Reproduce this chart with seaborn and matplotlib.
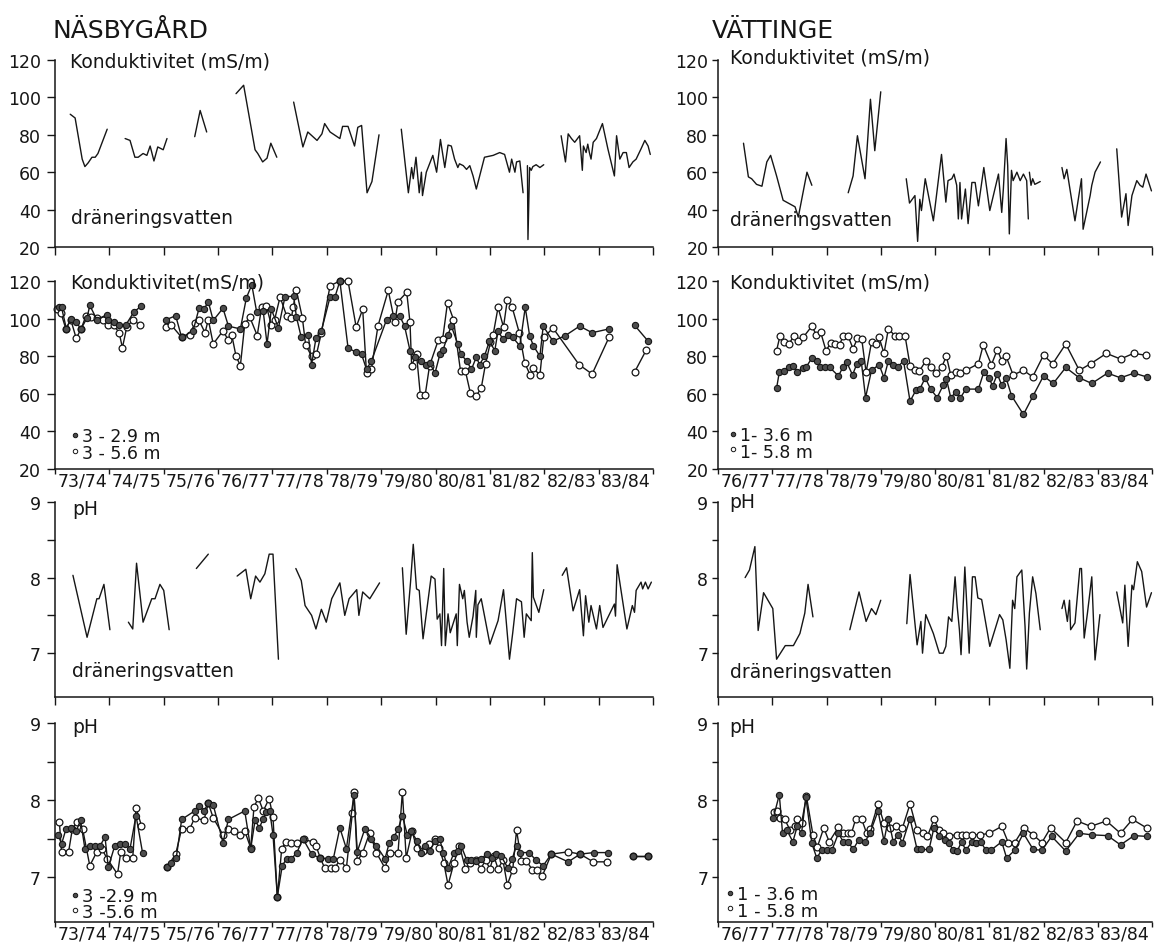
import numpy as np
import pandas as pd
import matplotlib
matplotlib.use("Agg")
import matplotlib.pyplot as plt
from matplotlib.lines import Line2D
import seaborn as sns

nan = np.nan

# ---------------------------------------------------------------- seasons
NAS_SEASONS = ["73/74", "74/75", "75/76", "76/77", "77/78", "78/79",
               "79/80", "80/81", "81/82", "82/83", "83/84"]
VAT_SEASONS = ["76/77", "77/78", "78/79", "79/80", "80/81", "81/82",
               "82/83", "83/84"]

# Time is given in season-years (73.5 = middle of 73/74); nan separates gaps.

# ---------------------------------------------------------------- Näsbygård
# conductivity (mS/m), drainage water
NAS_DRAIN_COND_T = [
    73.28, 73.37, 73.50, 73.55, 73.61, 73.68, 73.74, 73.79, 73.96, nan,
    74.29, 74.38, 74.47, 74.53, 74.62, 74.69, 74.75, 74.82, 74.89, 74.99, 75.06, nan,
    75.57, 75.67, 75.79, nan,
    76.33, 76.47, 76.68, 76.73, 76.82, 76.90, 76.97, 77.08, nan,
    77.39, 77.56, 77.65, 77.82, 77.91, 77.96, 78.06, 78.24, 78.29, 78.39,
    78.51, 78.57, 78.64, 78.74, 78.83, 78.96, nan,
    79.37, 79.50, 79.56, 79.59, 79.64, 79.70, 79.74, 79.76, 79.83, 79.95,
    80.02, 80.09, 80.17, 80.23, 80.29, 80.35, 80.41, 80.44, 80.51, 80.57,
    80.63, 80.69, 80.75, 80.90, 81.06, 81.18, 81.27, 81.36, 81.40, 81.46,
    81.49, 81.55, 81.61, nan,
    81.69, 81.70, 81.73, 81.76, 81.79, 81.85, 81.92, 81.99, nan,
    82.31, 82.39, 82.44, 82.50, 82.56, 82.65, 82.70, 82.72, 82.77, 82.80,
    82.83, 82.86, 82.90, 82.96, 83.07, 83.17, 83.29, 83.33, 83.39, 83.45,
    83.51, 83.56, 83.63, 83.69, 83.78, 83.85, 83.91, 83.95]
NAS_DRAIN_COND_V = [
    91, 89, 67, 63, 65, 68, 68, 70, 83, nan,
    78, 77, 68, 68, 70, 69, 74, 66, 73.5, 72, 78, nan,
    79, 93, 81.5, nan,
    102, 106.5, 72, 70, 65.5, 67.5, 75.5, 68, nan,
    97.5, 73.5, 81.5, 77, 80.5, 86, 81.5, 78, 84.5, 84.5,
    74, 84, 85, 49, 55, 80, nan,
    83, 49, 62.5, 56.5, 68, 49, 60, 47.5, 60, 69,
    60, 77.5, 62.5, 74.5, 74, 67, 62.5, 64.5, 63.5, 61.5,
    63.5, 58, 51, 68, 69, 70.5, 69.5, 60, 67, 60,
    65.5, 66, 49, nan,
    63.5, 24, 62.5, 61, 63, 64, 62.5, 64, nan,
    79.5, 65.5, 80.5, 78, 76, 79.5, 61, 74, 70.5, 75,
    70.5, 67, 76, 78, 86, 72.5, 58, 79.5, 67, 70.5,
    70.5, 62.5, 65.5, 67, 72.5, 77, 74, 69.5]

# conductivity (mS/m), groundwater tube 3 at 2.9 m (filled) and 5.6 m (open)
NAS_COND_29_T = [
    73.08, 73.12, 73.21, 73.29, 73.39, 73.48, 73.59, 73.64, 73.77, 73.95,
    73.98, 74.08, 74.18, 74.30, 74.45, 74.58, nan,
    75.05, 75.22, 75.33, 75.54, 75.65, 75.74, 75.82, 75.91, 76.09, 76.19,
    76.41, 76.52, 76.62, 76.71, 76.83, 76.90, 76.98, 77.11, 77.23, 77.39,
    77.44, 77.53, 77.66, 77.72, 77.80, 77.90, 78.06, 78.15, 78.24, 78.39,
    78.54, 78.64, 78.73, 78.82,
    79.10, 79.22, 79.34, 79.43, 79.53, 79.62, 79.74, 79.83, 79.89, 79.99,
    80.08, 80.14, 80.23, 80.29, 80.41, 80.47, 80.57, 80.66, 80.75, 80.81,
    80.90, 80.99, 81.09, 81.15, 81.24, 81.33, 81.42, 81.55, 81.65, 81.73,
    81.80, 81.92, 81.98, 82.16, 82.39, 82.65, 82.88, 83.19, nan,
    83.66, 83.91]
NAS_COND_29_V = [
    106, 106, 94.5, 100, 98, 94.5, 100.5, 107, 99.5, 102,
    99.5, 98, 96.5, 96.5, 103.5, 106.5, nan,
    99.5, 101.5, 90, 93.5, 105.5, 105, 109, 99, 105.5, 96,
    94.5, 111, 118, 103.5, 104, 86.5, 105, 95, 111.5, 112,
    101, 90, 91.5, 75.5, 89.5, 93.5, 111.5, 111.5, 120, 84.5,
    82, 81, 73, 77.5,
    99.5, 101.5, 101.5, 96, 83, 79.5, 77.5, 75.5, 76.5, 71,
    81, 83.5, 91.5, 96, 86.5, 81, 77.5, 73, 79.5, 75.5,
    80, 88, 83, 93.5, 89, 91.5, 90, 85.5, 106, 91,
    85.5, 80, 96, 88, 91, 96, 92.5, 94.5, nan,
    96.5, 88]
NAS_COND_56_T = [
    73.04, 73.11, 73.20, 73.29, 73.39, 73.48, 73.57, 73.67, 73.77, 73.88,
    73.98, 74.08, 74.18, 74.24, 74.32, 74.44, 74.56, nan,
    75.05, 75.14, 75.33, 75.48, 75.57, 75.65, 75.76, 75.82, 75.91, 76.09,
    76.19, 76.25, 76.33, 76.41, 76.49, 76.58, 76.72, 76.80, 76.89, 76.98,
    77.04, 77.14, 77.26, 77.35, 77.38, 77.44, 77.55, 77.61, 77.72, 77.81,
    77.90, 78.06, 78.24, 78.39, 78.54, 78.66, 78.73, 78.82, 78.94, 79.13,
    79.25, 79.31, 79.47, 79.53, 79.56, 79.65, 79.72, 79.81, 79.89, 80.05,
    80.13, 80.22, 80.33, 80.46, 80.55, 80.64, 80.75, 80.84, 80.92, 81.01,
    81.06, 81.15, 81.25, 81.32, 81.41, 81.54, 81.64, 81.74, 81.80, 81.92,
    81.99, 82.16, 82.64, 82.88, 83.19, nan,
    83.66, 83.88]
NAS_COND_56_V = [
    105, 103, 94.5, 99.5, 89.5, 94.5, 101.5, 101, 100.5, 99.5,
    96.5, 96.5, 92.5, 84.5, 95.5, 99.5, 96.5, nan,
    95.5, 96.5, 90, 91.5, 97.5, 99, 92.5, 99.5, 86.5, 93.5,
    88.5, 91.5, 80, 75, 97, 101, 91, 106, 106.5, 96.5,
    99.5, 111.5, 101.5, 100.5, 106, 115, 100.5, 86, 80, 81,
    92.5, 117.5, 120, 120, 95.5, 105, 71, 73, 96, 115,
    98, 109, 114, 98, 75, 81, 59.5, 59.5, 75, 88.5,
    89, 108.5, 99.5, 72, 72, 60.5, 59, 63, 76, 87.5,
    91.5, 106, 95.5, 110, 106, 92.5, 76.5, 70, 73.5, 70,
    90, 95, 75.5, 70.5, 90, nan,
    71.5, 83.5]

# pH, drainage water
NAS_DRAIN_PH_T = [
    73.33, 73.59, 73.77, 73.81, 73.90, 74.01, nan,
    74.35, 74.43, 74.50, 74.62, 74.78, 74.84, 74.93, 75.00, 75.10, nan,
    75.60, 75.82, nan,
    76.35, 76.51, 76.60, 76.69, 76.77, 76.86, 76.94, 77.01, 77.11, nan,
    77.43, 77.53, 77.60, 77.72, 77.80, 77.90, 77.99, 78.09, 78.24, 78.33,
    78.41, 78.55, 78.59, 78.66, 78.79, 78.97, nan,
    79.39, 79.46, 79.54, 79.59, 79.65, 79.70, 79.77, 79.92, 79.99, 80.03,
    80.08, 80.11, 80.15, 80.18, 80.23, 80.27, 80.38, 80.40, 80.44, 80.50,
    80.53, 80.58, 80.62, 80.69, 80.74, 80.75, 80.78, 80.84, 81.00, 81.15,
    81.25, 81.36, 81.42, 81.49, 81.58, 81.63, 81.67, 81.73, 81.76, 81.78,
    81.80, 81.90, 81.99, nan,
    82.33, 82.41, 82.53, 82.65, 82.72, 82.76, 82.82, 82.86, 82.96, 83.02,
    83.08, 83.29, 83.31, 83.34, 83.52, 83.62, 83.66, 83.69, 83.78, 83.81,
    83.86, 83.91, 83.97]
NAS_DRAIN_PH_V = [
    8.03, 7.21, 7.72, 7.72, 7.91, 7.31, nan,
    7.41, 7.32, 8.19, 7.41, 7.72, 7.72, 7.91, 7.83, 7.31, nan,
    8.12, 8.31, nan,
    8.02, 8.11, 7.72, 8.02, 7.94, 8.05, 8.31, 8.31, 6.92, nan,
    8.12, 7.96, 7.63, 7.50, 7.32, 7.58, 7.41, 7.72, 7.93, 7.50,
    7.72, 7.84, 7.50, 7.81, 7.72, 7.93, nan,
    8.13, 7.25, 7.94, 8.44, 7.85, 7.83, 7.19, 8.02, 7.98, 7.45,
    7.52, 7.10, 8.12, 7.10, 7.52, 7.27, 7.52, 7.10, 7.91, 7.72,
    7.83, 7.41, 7.21, 7.49, 7.83, 7.21, 7.64, 7.72, 7.12, 7.43,
    7.84, 6.92, 7.27, 7.72, 7.68, 7.21, 7.52, 7.46, 7.43, 8.33,
    7.74, 7.54, 7.84, nan,
    8.03, 8.13, 7.56, 7.84, 7.23, 7.76, 7.41, 7.63, 7.32, 7.63,
    7.34, 7.65, 7.49, 8.17, 7.32, 7.63, 7.54, 7.83, 7.94, 7.85,
    7.94, 7.85, 7.94]

# pH, groundwater tube 3 at 2.9 m (filled) and 5.6 m (open)
NAS_PH_29_T = [
    73.06, 73.12, 73.20, 73.29, 73.39, 73.47, 73.55, 73.64, 73.74, 73.83,
    73.92, 73.98, 74.10, 74.19, 74.29, 74.38, 74.49, 74.61, nan,
    75.06, 75.14, 75.23, 75.33, 75.57, 75.65, 75.74, 75.82, 75.91, 76.09,
    76.19, 76.49, 76.60, 76.68, 76.76, 76.83, 76.89, 76.95, 77.01, 77.09,
    77.18, 77.26, 77.35, 77.45, 77.56, 77.72, 77.87, 78.02, 78.12, 78.24,
    78.36, 78.50, 78.56, 78.70, 78.82, 78.91, 79.07, 79.15, 79.23, 79.31,
    79.39, 79.48, 79.55, 79.66, 79.74, 79.80, 79.89, 79.99, 80.08, 80.14,
    80.23, 80.34, 80.41, 80.47, 80.57, 80.66, 80.75, 80.84, 80.94, 81.03,
    81.12, 81.21, 81.33, 81.41, 81.49, 81.56, 81.72, 81.85, 81.98, 82.13,
    82.44, 82.66, 82.91, 83.17, nan,
    83.63, 83.91]
NAS_PH_29_V = [
    7.55, 7.43, 7.62, 7.64, 7.60, 7.74, 7.37, 7.41, 7.41, 7.41,
    7.52, 7.13, 7.41, 7.43, 7.43, 7.37, 7.80, 7.32, nan,
    7.13, 7.18, 7.25, 7.75, 7.86, 7.93, 7.86, 7.96, 7.94, 7.45,
    7.75, 7.86, 7.37, 7.74, 7.64, 7.76, 7.84, 7.86, 7.55, 6.75,
    7.15, 7.24, 7.24, 7.32, 7.50, 7.30, 7.25, 7.24, 7.24, 7.64,
    7.37, 8.07, 7.33, 7.63, 7.50, 7.41, 7.24, 7.45, 7.52, 7.62,
    7.80, 7.55, 7.60, 7.47, 7.32, 7.41, 7.34, 7.47, 7.49, 7.32,
    7.12, 7.32, 7.34, 7.41, 7.23, 7.23, 7.21, 7.24, 7.30, 7.25,
    7.30, 7.27, 7.12, 7.24, 7.41, 7.32, 7.32, 7.22, 7.15, 7.30,
    7.20, 7.30, 7.32, 7.32, nan,
    7.28, 7.28]
NAS_PH_56_T = [
    73.08, 73.12, 73.25, 73.32, 73.41, 73.51, 73.64, 73.77, 73.86, 73.96,
    74.15, 74.21, 74.31, 74.43, 74.49, 74.59, nan,
    75.06, 75.22, 75.33, 75.48, 75.57, 75.74, 75.82, 75.91, 76.09, 76.19,
    76.30, 76.40, 76.49, 76.60, 76.66, 76.74, 76.83, 76.94, 77.01, 77.09,
    77.17, 77.25, 77.35, 77.45, 77.58, 77.74, 77.80, 77.88, 77.96, 78.07,
    78.15, 78.24, 78.36, 78.47, 78.50, 78.56, 78.66, 78.79, 78.91, 79.07,
    79.16, 79.31, 79.39, 79.46, 79.57, 79.65, 79.77, 79.88, 79.99, 80.07,
    80.15, 80.23, 80.34, 80.44, 80.55, 80.64, 80.74, 80.83, 80.92, 81.00,
    81.07, 81.15, 81.24, 81.32, 81.42, 81.49, 81.58, 81.67, 81.78, 81.87,
    81.96, 82.13, 82.44, 82.66, 82.90, 83.16, nan,
    83.63, 83.91]
NAS_PH_56_V = [
    7.72, 7.33, 7.33, 7.63, 7.72, 7.62, 7.15, 7.33, 7.37, 7.24,
    7.04, 7.33, 7.25, 7.25, 7.90, 7.67, nan,
    7.13, 7.30, 7.63, 7.63, 7.77, 7.74, 7.96, 7.77, 7.55, 7.63,
    7.60, 7.55, 7.60, 7.38, 7.91, 8.03, 7.86, 8.02, 7.78, 6.74,
    7.37, 7.46, 7.45, 7.44, 7.49, 7.46, 7.41, 7.25, 7.12, 7.12,
    7.12, 7.23, 7.12, 7.83, 8.11, 7.21, 7.32, 7.58, 7.32, 7.12,
    7.32, 7.32, 8.11, 7.25, 7.60, 7.38, 7.34, 7.43, 7.49, 7.38,
    7.19, 6.90, 7.19, 7.41, 7.11, 7.19, 7.23, 7.11, 7.22, 7.11,
    7.28, 7.11, 7.22, 6.90, 7.10, 7.61, 7.21, 7.21, 7.10, 7.10,
    7.01, 7.30, 7.33, 7.30, 7.20, 7.20, nan,
    7.28, 7.28]

# ---------------------------------------------------------------- Vättinge
VAT_DRAIN_COND_T = [
    76.47, 76.56, 76.62, 76.71, 76.81, 76.90, 76.97, 77.08, 77.20, 77.42,
    77.48, 77.64, 77.73, nan,
    78.40, 78.49, 78.57, 78.71, 78.81, 78.89, 79.00, nan,
    79.47, 79.53, 79.63, 79.68, 79.72, 79.75, 79.82, 79.97, 80.12, 80.20,
    80.24, 80.31, 80.35, 80.40, 80.43, 80.46, 80.49, 80.56, 80.61, 80.68,
    80.74, 80.80, 80.90, 81.01, 81.17, 81.23, 81.26, 81.31, 81.34, 81.37,
    81.41, 81.44, 81.51, 81.57, 81.63, 81.69, 81.72, nan,
    81.74, 81.77, 81.80, 81.84, 81.94, nan,
    82.34, 82.38, 82.43, 82.58, 82.70, 82.73, 82.86, 82.89, 82.95, 83.05, nan,
    83.35, 83.44, 83.52, 83.56, 83.63, 83.72, 83.78, 83.83, 83.89, 83.99]
VAT_DRAIN_COND_V = [
    75.5, 57.5, 56.5, 53.5, 52.5, 65.5, 69, 58, 45, 41.5,
    36, 60, 53, nan,
    49, 58, 79.5, 56.5, 99, 71.5, 103, nan,
    56.5, 43.5, 47.5, 23, 45.5, 39.5, 56.5, 34, 69.5, 44,
    55.5, 56.5, 59, 53, 35, 54.5, 35, 51, 32.5, 54.5,
    54.5, 42, 62.5, 39.5, 59, 38.5, 51, 78, 63.5, 27,
    61, 55.5, 60, 55.5, 59, 55.5, 35, nan,
    60, 53, 56.5, 53.5, 55, nan,
    62.5, 56.5, 61.5, 34, 56.5, 29.5, 47.5, 53, 60, 65.5, nan,
    72.5, 36, 48.5, 31.5, 47.5, 55.5, 53, 52, 59, 50]

# conductivity (mS/m), groundwater tube 1 at 3.6 m (filled) and 5.8 m (open)
VAT_COND_36_T = [
    77.08, 77.13, 77.22, 77.30, 77.39, 77.46, 77.56, 77.62, 77.73, 77.82,
    77.88, 77.97, 78.06, 78.22, 78.30, 78.37, 78.48, 78.56, 78.64, 78.72,
    78.83, 78.97, 79.06, 79.14, 79.23, 79.32, 79.42, 79.54, 79.65, 79.72,
    79.82, 79.92, 80.04, 80.15, 80.21, 80.29, 80.39, 80.47, 80.57, 80.80,
    80.90, 81.00, 81.06, 81.15, 81.23, 81.31, 81.41, 81.63, 81.81, 82.00,
    82.18, 82.41, 82.66, 82.89, 83.18, 83.42, 83.67, 83.90]
VAT_COND_36_V = [
    63, 71.5, 72, 74, 75, 71.5, 73.5, 74, 79, 77.5,
    74.5, 74, 74, 69.5, 74, 77, 70, 76, 77.5, 58,
    72.5, 75.5, 68.5, 77.5, 75.5, 74.5, 77.5, 56, 62, 62.5,
    68.5, 62.5, 58, 64.5, 68, 58, 61, 58, 62.5, 62.5,
    71.5, 68.5, 64, 70.5, 64.5, 68.5, 59, 49, 59, 69.5,
    65.5, 74, 68.5, 65.5, 71, 68.5, 71, 69]
VAT_COND_58_T = [
    77.08, 77.14, 77.22, 77.31, 77.40, 77.48, 77.57, 77.73, 77.81, 77.89,
    77.99, 78.08, 78.16, 78.24, 78.31, 78.40, 78.49, 78.57, 78.65, 78.73,
    78.83, 78.91, 78.97, 79.06, 79.14, 79.26, 79.34, 79.45, 79.54, 79.63,
    79.71, 79.83, 79.92, 80.02, 80.12, 80.21, 80.29, 80.39, 80.47, 80.57,
    80.80, 80.89, 81.04, 81.15, 81.23, 81.31, 81.44, 81.63, 81.80, 82.00,
    82.17, 82.41, 82.66, 82.87, 83.16, 83.42, 83.66, 83.89]
VAT_COND_58_V = [
    83, 90.5, 87.5, 86.5, 91, 88, 90, 96, 91.5, 93,
    83, 87, 86.5, 86, 91, 90.5, 84, 89.5, 89, 71.5,
    87.5, 86.5, 90, 81.5, 94.5, 91, 90.5, 90.5, 75, 72.5,
    72, 77.5, 74, 71, 74, 80, 70, 71.5, 71, 72.5,
    76, 86, 75.5, 83.5, 77.5, 80, 70, 72.5, 69, 80.5,
    76, 86.5, 72.5, 76, 81.5, 78.5, 81.5, 80.5]

# pH, drainage water
VAT_DRAIN_PH_T = [
    76.50, 76.58, 76.68, 76.74, 76.84, 77.01, 77.08, 77.24, 77.39, 77.51,
    77.60, 77.66, 77.75, nan,
    78.43, 78.60, 78.73, 78.83, 78.91, 79.00, nan,
    79.48, 79.54, 79.67, 79.74, 79.77, 79.83, 79.97, 80.08, 80.15, 80.20,
    80.25, 80.31, 80.37, 80.41, 80.45, 80.48, 80.55, 80.60, 80.63, 80.69,
    80.74, 80.79, 80.86, 81.01, 81.19, 81.25, 81.31, 81.38, 81.43, 81.47,
    81.51, 81.60, 81.66, 81.69, 81.74, 81.80, 81.86, 81.94, nan,
    82.34, 82.38, 82.44, 82.48, 82.50, 82.58, 82.67, 82.70, 82.75, 82.81,
    82.89, 82.95, 83.04, nan,
    83.35, 83.46, 83.50, 83.56, 83.63, 83.66, 83.73, 83.81, 83.90, 83.99]
VAT_DRAIN_PH_V = [
    8.00, 8.10, 8.41, 7.30, 7.80, 7.59, 6.92, 7.10, 7.10, 7.26,
    7.53, 7.91, 7.48, nan,
    7.31, 7.81, 7.42, 7.59, 7.51, 7.70, nan,
    7.39, 8.04, 7.11, 7.42, 7.00, 7.51, 7.26, 7.00, 7.00, 7.09,
    7.48, 7.42, 8.01, 7.61, 7.31, 6.98, 8.14, 7.44, 7.00, 8.01,
    8.01, 7.73, 7.71, 7.09, 7.51, 7.44, 7.18, 6.80, 7.70, 7.59,
    8.01, 8.10, 7.35, 6.79, 7.53, 8.01, 7.79, 7.31, nan,
    7.59, 7.70, 7.42, 7.70, 7.31, 7.40, 8.12, 8.12, 7.20, 7.53,
    8.01, 6.91, 7.51, nan,
    7.81, 7.40, 7.90, 7.09, 7.90, 7.84, 8.21, 8.08, 7.61, 7.80]

# pH, groundwater tube 1 at 3.6 m (filled) and 5.8 m (open)
VAT_PH_36_T = [
    77.02, 77.13, 77.19, 77.27, 77.38, 77.46, 77.54, 77.62, 77.73, 77.82,
    77.91, 78.00, 78.10, 78.22, 78.31, 78.40, 78.49, 78.59, 78.71, 78.80,
    78.95, 79.06, 79.14, 79.23, 79.32, 79.40, 79.54, 79.67, 79.75, 79.89,
    79.98, 80.08, 80.18, 80.26, 80.33, 80.41, 80.49, 80.57, 80.68, 80.76,
    80.84, 80.94, 81.03, 81.23, 81.32, 81.47, 81.63, 81.81, 81.97, 82.15,
    82.41, 82.66, 82.89, 83.18, 83.42, 83.67, 83.90]
VAT_PH_36_V = [
    7.77, 8.07, 7.57, 7.61, 7.46, 7.66, 7.57, 8.04, 7.44, 7.25,
    7.35, 7.35, 7.35, 7.57, 7.46, 7.46, 7.36, 7.48, 7.46, 7.57,
    7.86, 7.47, 7.76, 7.46, 7.55, 7.45, 7.76, 7.36, 7.36, 7.36,
    7.64, 7.54, 7.48, 7.45, 7.35, 7.34, 7.46, 7.35, 7.46, 7.45,
    7.46, 7.35, 7.35, 7.46, 7.25, 7.35, 7.57, 7.36, 7.35, 7.53,
    7.34, 7.57, 7.55, 7.54, 7.42, 7.54, 7.53]
VAT_PH_58_T = [
    77.03, 77.08, 77.14, 77.23, 77.33, 77.42, 77.46, 77.54, 77.63, 77.75,
    77.83, 77.95, 78.05, 78.22, 78.31, 78.40, 78.46, 78.54, 78.65, 78.74,
    78.81, 78.95, 79.06, 79.17, 79.29, 79.40, 79.54, 79.67, 79.77, 79.86,
    79.98, 80.08, 80.15, 80.25, 80.40, 80.49, 80.58, 80.68, 80.83, 81.00,
    81.23, 81.35, 81.47, 81.64, 81.81, 81.97, 82.13, 82.41, 82.62, 82.87,
    83.16, 83.42, 83.64, 83.90]
VAT_PH_58_V = [
    7.84, 7.86, 7.77, 7.75, 7.61, 7.66, 7.75, 7.70, 8.05, 7.55,
    7.39, 7.64, 7.46, 7.65, 7.57, 7.57, 7.57, 7.76, 7.75, 7.57,
    7.62, 7.95, 7.70, 7.64, 7.67, 7.64, 7.95, 7.61, 7.57, 7.53,
    7.75, 7.61, 7.58, 7.54, 7.55, 7.55, 7.55, 7.55, 7.55, 7.57,
    7.66, 7.45, 7.45, 7.64, 7.55, 7.45, 7.64, 7.45, 7.73, 7.66,
    7.73, 7.57, 7.75, 7.64]

# ---------------------------------------------------------------- styling
sns.set_theme(style="ticks")
plt.rcParams["font.family"] = ["DejaVu Sans"]
INK = "#161616"
plt.rcParams["text.color"] = INK
plt.rcParams["xtick.color"] = INK
plt.rcParams["ytick.color"] = INK

W, H = 1155, 945
fig = plt.figure(figsize=(W / 100, H / 100), dpi=100)
fig.patch.set_facecolor("white")

LEFT = (55, 653)
RIGHT = (718, 1152)
ROWS = [(61, 248), (282, 470), (503, 698), (724, 923)]

FILLED = dict(marker="o", markersize=4.5, markerfacecolor="#4d4d4d",
              markeredgecolor=INK, markeredgewidth=0.8)
OPEN = dict(marker="o", markersize=4.9, markerfacecolor="white",
            markeredgecolor=INK, markeredgewidth=0.9)


def fx(x):
    return x / W


def fy(y):
    return 1 - y / H


def make_axes(col, row):
    x0, x1 = col
    ytop, ybot = ROWS[row]
    return fig.add_axes([fx(x0), fy(ybot), (x1 - x0) / W, (ybot - ytop) / H])


def to_frame(t, v):
    t = np.asarray(t, float)
    v = np.asarray(v, float)
    gap = np.isnan(t)
    seg = np.cumsum(gap)
    keep = ~gap
    return pd.DataFrame({"t": t[keep], "v": v[keep], "seg": seg[keep]})


def trace(ax, t, v, **kw):
    sns.lineplot(data=to_frame(t, v), x="t", y="v", units="seg",
                 estimator=None, sort=False, color=INK, linewidth=1.0,
                 ax=ax, legend=False, clip_on=False, **kw)
    ax.set_xlabel("")
    ax.set_ylabel("")


def frame(ax, seasons, first, ylim, yt, ylab, yminor, labelled, ylen, ypad):
    n = len(seasons)
    ax.set_facecolor("white")
    ax.set_xlim(first, first + n)
    ax.set_ylim(*ylim)
    for s in ("top", "right"):
        ax.spines[s].set_visible(False)
    for s in ("left", "bottom"):
        ax.spines[s].set_color(INK)
        ax.spines[s].set_linewidth(1.1)
    ax.set_xticks(np.arange(first, first + n + 1))
    ax.set_xticklabels([])
    if labelled:
        ax.set_xticks(np.arange(first, first + n) + 0.5, minor=True)
        ax.set_xticklabels(seasons, minor=True, fontsize=12.5)
        ax.tick_params(axis="x", which="minor", bottom=True, length=0, pad=1.5)
        ax.tick_params(axis="x", which="major", bottom=True, length=3.8,
                       width=1.0, direction="out")
    else:
        ax.tick_params(axis="x", which="major", bottom=True, length=5.8,
                       width=1.0, direction="out")
    ax.set_yticks(yt)
    ax.set_yticklabels(ylab, fontsize=12.5)
    if yminor:
        ax.set_yticks(yminor, minor=True)
    ax.tick_params(axis="y", which="both", left=True, length=ylen, width=1.0,
                   pad=ypad, direction="out")
    ax.grid(False)


COND_TICKS = [20, 40, 60, 80, 100, 120]
COND_LABELS = [str(v) for v in COND_TICKS]
PH_TICKS = [7, 8, 9]
PH_LABELS = ["7", "8", "9"]
PH_MINOR = [7.5, 8.5]
COND_LIM = (20, 120)
PH_LIM = (6.42, 9.0)


def label(x, y, s, size=13.5, va="baseline"):
    fig.text(fx(x), fy(y), s, fontsize=size, ha="left", va=va, color=INK)


def legend_entry(x, y, filled, tx, ty, s, size=12.5):
    fig.add_artist(Line2D([fx(x)], [fy(y)], marker="o", markersize=3.2,
                          markerfacecolor="#4d4d4d" if filled else "white",
                          markeredgecolor=INK, markeredgewidth=0.7,
                          linestyle="none"))
    label(tx, ty, s, size=size)


# ---------------------------------------------------------------- Näsbygård
ax = make_axes(LEFT, 0)
trace(ax, NAS_DRAIN_COND_T, NAS_DRAIN_COND_V)
frame(ax, NAS_SEASONS, 73, COND_LIM, COND_TICKS, COND_LABELS, None, False, 5.8, 4.5)

ax = make_axes(LEFT, 1)
trace(ax, NAS_COND_56_T, NAS_COND_56_V, **OPEN)
trace(ax, NAS_COND_29_T, NAS_COND_29_V, **FILLED)
frame(ax, NAS_SEASONS, 73, COND_LIM, COND_TICKS, COND_LABELS, None, True, 5.8, 4.5)

ax = make_axes(LEFT, 2)
trace(ax, NAS_DRAIN_PH_T, NAS_DRAIN_PH_V)
frame(ax, NAS_SEASONS, 73, PH_LIM, PH_TICKS, PH_LABELS, PH_MINOR, False, 5.8, 4.5)

ax = make_axes(LEFT, 3)
trace(ax, NAS_PH_56_T, NAS_PH_56_V, **OPEN)
trace(ax, NAS_PH_29_T, NAS_PH_29_V, **FILLED)
frame(ax, NAS_SEASONS, 73, PH_LIM, PH_TICKS, PH_LABELS, PH_MINOR, True, 5.8, 4.5)

# ---------------------------------------------------------------- Vättinge
ax = make_axes(RIGHT, 0)
trace(ax, VAT_DRAIN_COND_T, VAT_DRAIN_COND_V)
frame(ax, VAT_SEASONS, 76, COND_LIM, COND_TICKS, COND_LABELS, None, False, 4.0, 3.0)

ax = make_axes(RIGHT, 1)
trace(ax, VAT_COND_58_T, VAT_COND_58_V, **OPEN)
trace(ax, VAT_COND_36_T, VAT_COND_36_V, **FILLED)
frame(ax, VAT_SEASONS, 76, COND_LIM, COND_TICKS, COND_LABELS, None, True, 4.0, 3.0)

ax = make_axes(RIGHT, 2)
trace(ax, VAT_DRAIN_PH_T, VAT_DRAIN_PH_V)
frame(ax, VAT_SEASONS, 76, PH_LIM, PH_TICKS, PH_LABELS, PH_MINOR, False, 4.0, 3.0)

ax = make_axes(RIGHT, 3)
trace(ax, VAT_PH_58_T, VAT_PH_58_V, **OPEN)
trace(ax, VAT_PH_36_T, VAT_PH_36_V, **FILLED)
frame(ax, VAT_SEASONS, 76, PH_LIM, PH_TICKS, PH_LABELS, PH_MINOR, True, 4.0, 3.0)

# ---------------------------------------------------------------- text
label(52, 37.5, "NÄSBYGÅRD", size=18)
label(712, 37.5, "VÄTTINGE", size=18)

label(70, 68, "Konduktivitet (mS/m)")
label(730, 64, "Konduktivitet (mS/m)")
label(70, 289, "Konduktivitet(mS/m)")
label(730, 289, "Konduktivitet (mS/m)")

label(71, 224, "dräneringsvatten")
label(730, 226, "dräneringsvatten")
label(72, 677, "dräneringsvatten")
label(730, 678, "dräneringsvatten")

label(72, 515, "pH")
label(72, 733, "pH")
label(729, 508, "pH")
label(729, 733, "pH")

legend_entry(75, 436, True, 82, 442, "3 - 2.9 m")
legend_entry(75, 452, False, 82, 459, "3 - 5.6 m")
legend_entry(75, 896, True, 82, 902, "3 -2.9 m", size=13)
legend_entry(75, 911, False, 82, 918, "3 -5.6 m", size=13)
legend_entry(733, 435, True, 740, 441, "1- 3.6 m")
legend_entry(733, 450, False, 740, 458, "1- 5.8 m")
legend_entry(730, 894, True, 737, 900, "1 - 3.6 m", size=13)
legend_entry(730, 909, False, 737, 917, "1 - 5.8 m", size=13)

fig.savefig("out.png", dpi=100, facecolor="white")
